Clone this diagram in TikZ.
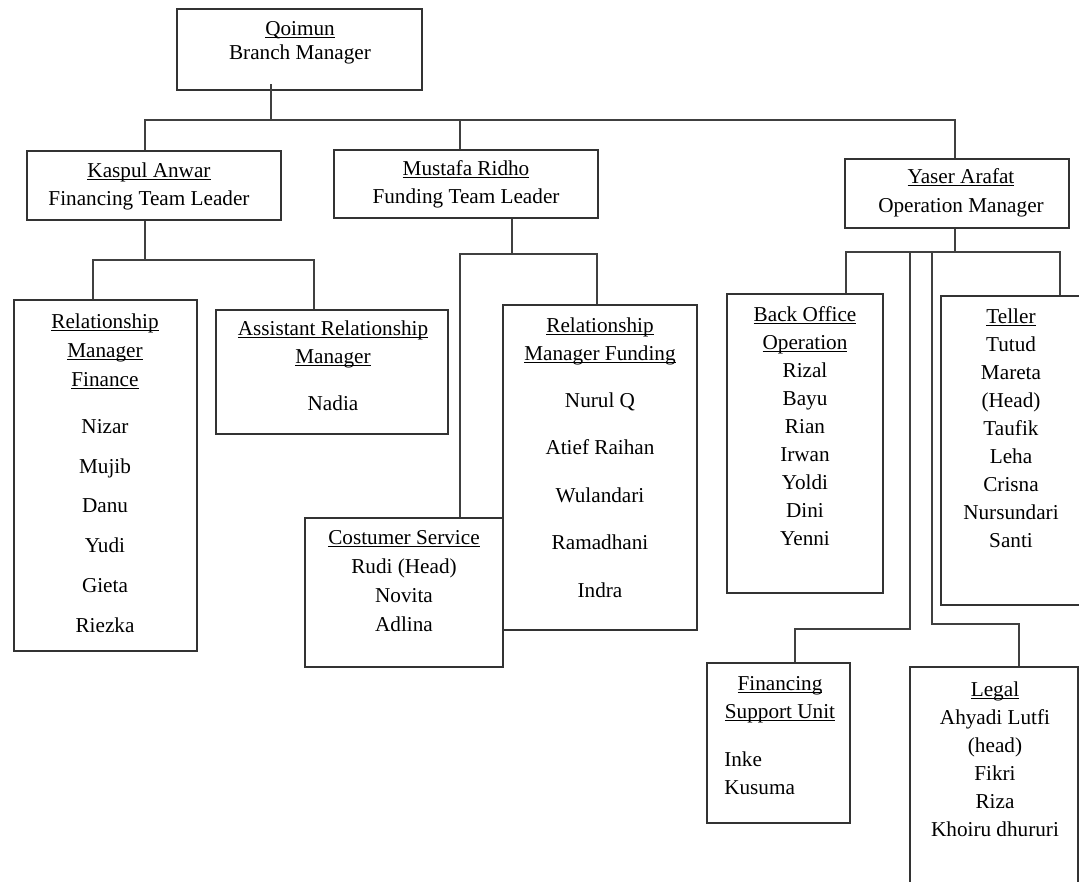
\documentclass[tikz,border=0pt]{standalone}
\usepackage{fontspec}
\setmainfont{Liberation Serif}
\usetikzlibrary{positioning}

\newsavebox{\ttlbox}
% underlined title line (no height, so the node top sits on its baseline)
\newcommand{\ttl}[1]{\smash{\sbox\ttlbox{#1}\rlap{\usebox\ttlbox}\rule[-2.4pt]{\wd\ttlbox}{0.9pt}}}

\tikzset{
  unitbox/.style 2 args={draw=black!80, line width=1.1pt, fill=white, inner sep=0pt,
    minimum width=#1*0.75pt, minimum height=#2*0.75pt},
  unittext/.style={align=center, inner sep=0pt, anchor=north,
    font=\fontsize{15.9}{21}\selectfont},
  link/.style={draw=black!75, line width=1.1pt},
}

\begin{document}
\begin{tikzpicture}[x=0.75pt,y=0.75pt,yscale=-1]
\useasboundingbox (0,0) rectangle (1079,882);
\clip (0,0) rectangle (1079,882);

% Boxes
\node[unitbox={245}{81}] (bm) at (299.5,49.5) {};
\node[unitbox={254}{69}] (fin) at (154,185.5) {};
\node[unitbox={264}{68}] (fun) at (466,184) {};
\node[unitbox={224}{69}] (ops) at (957,193.5) {};
\node[unitbox={183}{351}] (rmf) at (105.5,475.5) {};
\node[unitbox={232}{124}] (arm) at (332,372) {};
\node[unitbox={194}{325}] (rmfund) at (600,467.5) {};
\node[unitbox={198}{149}] (cs) at (404,592.5) {};
\node[unitbox={156}{299}] (bo) at (805,443.5) {};
\node[unitbox={144}{309}] (tel) at (1013,450.5) {};
\node[unitbox={143}{160}] (fsu) at (778.5,743) {};
\node[unitbox={168}{250}] (leg) at (994,792) {};

% Connectors
\coordinate (topB) at (271,120);
\coordinate (topL) at (145,120);
\coordinate (topM) at (460,120);
\coordinate (topR) at (955,120);
\draw[link] ([yshift=-5pt]topB |- bm.south) -- (topB);
\draw[link] (topL |- fin.north) -- (topL) -- (topR) -- (topR |- ops.north);
\draw[link] (topM) -- (topM |- fun.north);

\coordinate (finJ) at (145,260);
\coordinate (finL) at (93,260);
\coordinate (finR) at (314,260);
\draw[link] (finJ |- fin.south) -- (finJ);
\draw[link] (finL |- rmf.north) -- (finL) -- (finR) -- (finR |- arm.north);

\coordinate (funJ) at (512,254);
\coordinate (funL) at (460,254);
\coordinate (funR) at (597,254);
\draw[link] (funJ |- fun.south) -- (funJ);
\draw[link] (funL |- cs.north) -- (funL) -- (funR) -- (funR |- rmfund.north);

\coordinate (opsJ) at (955,252);
\coordinate (opsL) at (846,252);
\coordinate (opsR) at (1060,252);
\coordinate (opsA) at (910,252);
\coordinate (opsB) at (932,252);
\draw[link] (opsJ |- ops.south) -- (opsJ);
\draw[link] (opsL |- bo.north) -- (opsL) -- (opsR) -- (opsR |- tel.north);
\coordinate (fsuJ) at (795,629);
\draw[link] (opsA) -- (opsA |- fsuJ) -- (fsuJ) -- (fsuJ |- fsu.north);
\coordinate (legJ) at (1019,624);
\draw[link] (opsB) -- (opsB |- legJ) -- (legJ) -- (legJ |- leg.north);

% Texts
\node[unittext] (bmT) at (300,35) {\ttl{Qoimun}\\[-3pt]Branch Manager};
\node[unittext] (finT) at (149,177) {\ttl{Kaspul Anwar}\\Financing Team Leader};
\node[unittext] (funT) at (466,175) {\ttl{Mustafa Ridho}\\Funding Team Leader};
\node[unittext] (opsT) at (961,183) {\ttl{Yaser Arafat}\\[0.75pt]Operation Manager};
\node[unittext] (rmfT) at (105,328) {\ttl{Relationship}\\[0.75pt]\ttl{Manager}\\[0.75pt]\ttl{Finance}\\[14.25pt]
  Nizar\\[8.85pt]Mujib\\[8.85pt]Danu\\[8.85pt]Yudi\\[8.85pt]Gieta\\[8.85pt]Riezka};
\node[unittext] (armT) at (333,335) {\ttl{Assistant Relationship}\\\ttl{Manager}\\[14.25pt]Nadia};
\node[unittext] (rmfundT) at (600,332) {\ttl{Relationship}\\\ttl{Manager Funding}\\[14.25pt]
  Nurul Q\\[14.6pt]Atief Raihan\\[14.6pt]Wulandari\\[14.6pt]Ramadhani\\[14.6pt]Indra};
\node[unittext] (csT) at (404,544) {\ttl{Costumer Service}\\[0.75pt]Rudi (Head)\\[0.75pt]Novita\\[0.75pt]Adlina};
\node[unittext] (boT) at (805,321) {\ttl{Back Office}\\\ttl{Operation}\\Rizal\\Bayu\\Rian\\Irwan\\Yoldi\\Dini\\Yenni};
\node[unittext] (telT) at (1011,323) {\ttl{Teller}\\Tutud\\Mareta\\(Head)\\Taufik\\Leha\\Crisna\\Nursundari\\Santi};
\node[unittext] (fsuT) at (780,690) {\ttl{Financing}\\\ttl{Support Unit}};
\node[unittext, align=left, anchor=north west] (fsuN) at (724,766) {\smash{Inke}\\Kusuma};
\node[unittext] (legT) at (995,696) {\ttl{Legal}\\Ahyadi Lutfi\\(head)\\Fikri\\Riza\\Khoiru dhururi};

\end{tikzpicture}
\end{document}
